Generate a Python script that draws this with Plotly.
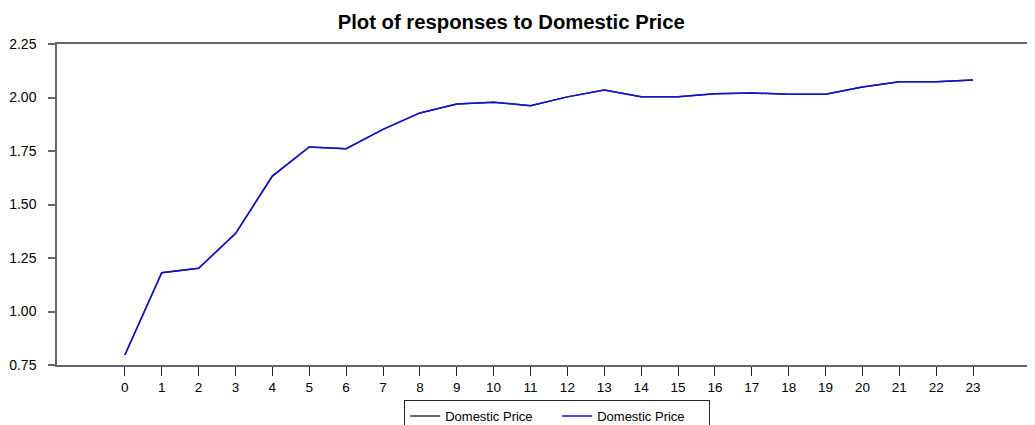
import plotly.graph_objects as go

periods = list(range(24))
tick_labels = [str(p) for p in periods]
series_name = "Domestic Price"
response = [0.797, 1.181, 1.202, 1.364, 1.633, 1.769, 1.761, 1.851, 1.928, 1.970,
            1.978, 1.962, 2.003, 2.035, 2.004, 2.004, 2.018, 2.021, 2.015, 2.015,
            2.049, 2.074, 2.074, 2.082]
y_ticks = [0.75, 1.00, 1.25, 1.50, 1.75, 2.00, 2.25]
y_tick_labels = ["0.75", "1.00", "1.25", "1.50", "1.75", "2.00", "2.25"]

FONT = "Liberation Sans, Arial, sans-serif"

fig = go.Figure()
fig.add_trace(go.Scatter(x=periods, y=response, mode="lines", name=series_name,
                         line=dict(color="#333333", width=1.5)))
fig.add_trace(go.Scatter(x=periods, y=response, mode="lines", name=series_name,
                         line=dict(color="#1010D8", width=1.5)))

fig.update_layout(
    width=1027, height=417,
    margin=dict(l=49, r=0, t=36, b=60, autoexpand=False),
    paper_bgcolor="white", plot_bgcolor="white",
    font=dict(family=FONT, size=13, color="black"),
    title=dict(text="<b>Plot of responses to Domestic Price</b>", x=0.490, xanchor="center",
               y=1 - 14 / 417, yanchor="middle", font=dict(size=20.3, family=FONT, color="black")),
    showlegend=True,
    legend=dict(orientation="h", x=0.355, xanchor="left", y=-0.109, yanchor="top",
                bordercolor="#222222", borderwidth=1, font=dict(size=13, family=FONT),
                entrywidth=107, entrywidthmode="pixels", tracegroupgap=0),
)
fig.update_xaxes(range=[-1.84, 24.68], tickmode="array", tickvals=periods, ticktext=tick_labels,
                 showgrid=False, zeroline=False, showline=True, linecolor="#666666", linewidth=1.5,
                 mirror=True, ticks="outside", ticklen=9, tickcolor="#222222", tickwidth=1,
                 automargin=False,
                 tickfont=dict(size=13.5, family=FONT, color="black"))
fig.update_yaxes(range=[0.75, 2.25], tickmode="array", tickvals=y_ticks, ticktext=y_tick_labels,
                 showgrid=False, zeroline=False, showline=True, linecolor="#666666", linewidth=1.5,
                 ticks="outside", ticklen=7, tickcolor="#666666", tickwidth=1.5,
                 ticklabelstandoff=9, automargin=False,
                 tickfont=dict(size=14, family=FONT, color="black"))

fig.write_html("out.html")
